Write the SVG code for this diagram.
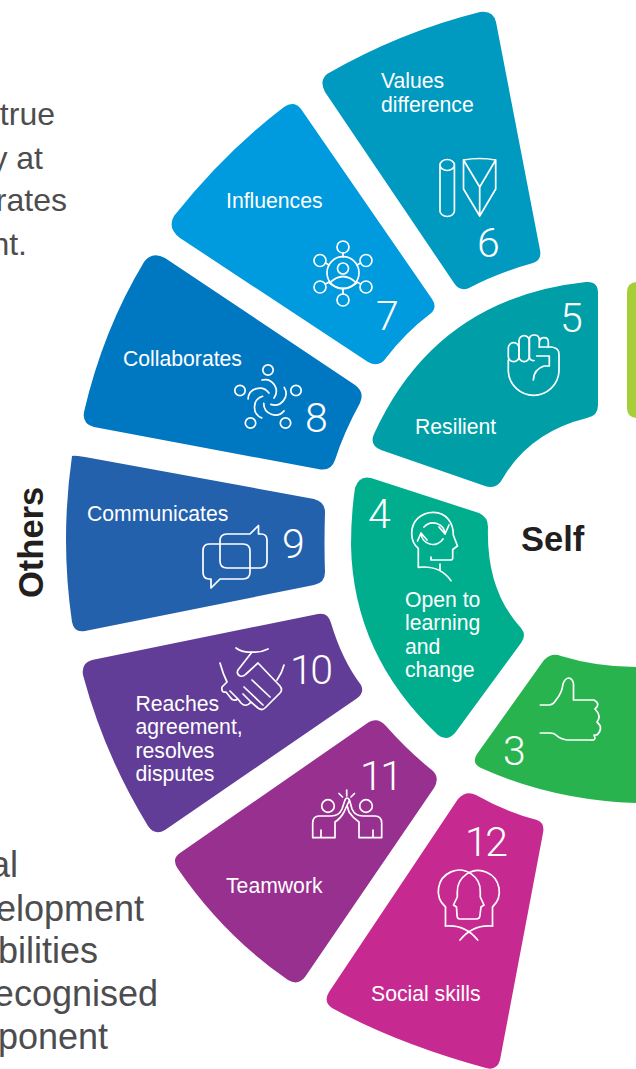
<svg xmlns="http://www.w3.org/2000/svg" width="636" height="1069" viewBox="0 0 636 1069">
<style>
.l{font:21.2px "Liberation Sans",Arial,sans-serif;fill:#fff}
.n{font-family:Roboto,"Liberation Sans",sans-serif;font-weight:300;font-size:41px;fill:#fff}
.d{letter-spacing:-2.5px}
.b{font:bold 34.5px "Liberation Sans",Arial,sans-serif;fill:#231f20}
.t{font:32px "Liberation Sans",Arial,sans-serif;fill:#4d4d4f}
.u{font-size:36px}
.i{fill:none;stroke:#fff;stroke-width:1.7;stroke-linecap:round;stroke-linejoin:round}
</style>
<defs>
<path id="sw" d="M262,380A11.500,11.500 0 0 1 274,398"/>
</defs>
<rect width="636" height="1069" fill="#fff"/>
<g id="text-top">
<text class="t" x="55" y="125" text-anchor="end">true</text>
<text class="t" x="43" y="169" text-anchor="end">y at</text>
<text class="t" x="67" y="211" text-anchor="end">rates</text>
<text class="t" x="27" y="255" text-anchor="end">nt.</text>
</g>
<g id="text-bottom">
<text class="t u" x="18" y="877" text-anchor="end">al</text>
<text class="t u" x="144" y="921" text-anchor="end">elopment</text>
<text class="t u" x="98" y="963" text-anchor="end">bilities</text>
<text class="t u" x="158" y="1006" text-anchor="end">ecognised</text>
<text class="t u" x="108" y="1049" text-anchor="end">ponent</text>
</g>
<text class="b" x="521" y="551">Self</text>
<text class="b" transform="translate(43,598) rotate(-90)" x="0" y="0">Others</text>

<g id="node-2"><path fill="#a6ce39" d="M636,282Q627,283 627,292V408Q627,417 636,418Z"/></g>

<g id="node-6">
<path fill="#009ac1" d="M327,74Q400,32 480,12Q493,10 496,22L540,250Q542,260 533,263Q497,273 469,288Q460,292 454,283L325,92Q319,81 327,74Z"/>
<path class="i" d="M440,165A7.2,5.5 0 0 1 454.4,165V211A7.2,5.500 0 0 1 440,211ZM440,165A7.2,5.5 0 0 0 454.4,165M463.5,160Q479.5,157 495.7,160V189L479.7,216L463.5,189ZM463.5,160L479.7,187L495.7,160M479.7,187V216"/>
<text class="l" x="381" y="88">Values</text><text class="l" x="381" y="112">difference</text>
<text class="n" x="477" y="257">6</text>
</g>

<g id="node-7">
<path fill="#009ade" d="M174,216Q225,152 284,107Q294,100 301,109L432,299Q438,308 430,314Q406,332 386,358Q379,368 368,362L180,238Q167,228 174,216Z"/>
<g class="i">
<circle cx="343" cy="272.7" r="16"/><circle cx="343" cy="268.5" r="5.5"/>
<path d="M329.5,283Q343,270 356.5,283Q343,294 329.5,283"/>
<circle cx="343" cy="247" r="6"/><circle cx="343" cy="300" r="6"/>
<circle cx="320" cy="260.5" r="6"/><circle cx="366" cy="260.5" r="6"/>
<circle cx="320" cy="287" r="6"/><circle cx="366" cy="287" r="6"/>
<path d="M343,253V257M343,289V294M325.5,263L329,265M360.5,263L357,265M325.5,284L329,282M360.5,284L357,282"/>
</g>
<text class="l" x="226" y="208">Influences</text>
<text class="n" x="376" y="330">7</text>
</g>

<g id="node-8">
<path fill="#0078c1" d="M144,262Q152,251 165,258L355,385Q365,392 360,403Q344,432 335,460Q331,472 318,469L94,427Q82,424 84,412Q103,330 144,262Z"/>
<g class="i">
<circle cx="268" cy="370" r="5.2"/><circle cx="240" cy="390.5" r="5.2"/><circle cx="296" cy="390.500" r="5.2"/><circle cx="250.5" cy="423" r="5.2"/><circle cx="285.5" cy="423" r="5.2"/>
<use href="#sw"/><use href="#sw" transform="rotate(72 268 399)"/><use href="#sw" transform="rotate(144 268 399)"/><use href="#sw" transform="rotate(216 268 399)"/><use href="#sw" transform="rotate(288 268 399)"/>
</g>
<text class="l" x="123" y="366">Collaborates</text>
<text class="n" x="305" y="432">8</text>
</g>

<g id="node-9">
<path fill="#2461ad" d="M72,456Q73,455 85,457L314,499Q325,502 325,512Q324,545 325,572Q325,583 314,585L85,631Q74,633 72,622Q60,540 72,456Z"/>
<path class="i" d="M250,534L258.5,525.5V534H261Q267,534 267,540V561Q267,568 260,568H227Q220,568 220,561V541Q220,534 227,534ZM209,544H243Q250,544 250,551V572Q250,579 243,579H220L211,588V579H209Q203,579 203,572V551Q203,544 209,544Z"/>
<text class="l" x="87" y="521">Communicates</text>
<text class="n" x="282" y="558">9</text>
</g>

<g id="node-10">
<path fill="#613d97" d="M92,660L318,614Q328,612 331,623Q342,660 361,685Q365,693 356,699L165,830Q155,836 148,826Q104,754 83,675Q81,663 92,660Z"/>
<g class="i">
<path d="M236,648Q243,653 252,652Q260,653 268,649M220,663Q223,674 227,682M284,665Q282,673 277,680M252,652L238,670Q236,674 240,676Q243,677 246,674L258,663L280,686Q283,690 280,693L265,708Q262,711 258,708L251,702Q246,708 241,703L238,699Q233,702 230,697L226,692Q221,693 222,687L227,682M252,680L270,697M244,687L263,705M238,699L230,691M251,702L243,694"/>
</g>
<text class="l" x="135.500" y="711">Reaches</text><text class="l" x="135.500" y="734">agreement,</text><text class="l" x="135.500" y="758">resolves</text><text class="l" x="135.500" y="781">disputes</text>
<text class="n d" x="290" y="684">10</text>
</g>

<g id="node-11">
<path fill="#983090" d="M369,722Q378,717 386,726Q408,751 433,771Q440,778 434,788L305,977Q298,986 288,980Q224,936 178,869Q171,859 180,853Z"/>
<g class="i">
<circle cx="328" cy="806" r="6.300"/><circle cx="366" cy="806" r="6.300"/>
<path d="M312.700,837.700V823Q313,816 319,816H331Q339,816 342,809L345,800Q347,796 349.500,800L344,812Q341,818 335,822V837.700ZM321,830V837.700M381.700,837.700V823Q381.500,816 375,816H363Q355,816 352,809L349.500,800M381.700,837.700H359V822Q353,818 349,812L347,805M373,830V837.700M346.700,790V796M339,793.500L342.500,797M354.500,793.500L351,797"/>
</g>
<text class="l" x="226" y="893">Teamwork</text>
<text class="n d" x="360" y="790">11</text>
</g>

<g id="node-12">
<path fill="#c62a90" d="M458,799Q466,790 476,795Q508,813 537,820Q545,823 543,833L500,1060Q497,1071 486,1068Q398,1044 332,1008Q323,1002 329,992Z"/>
<g class="i">
<path d="M445.500,926V907A21,21 0 1 1 480.300,892V897L484,905L481,907L480,915Q480,919 476,919H460Q457,919 457,915L456.500,907L453.500,905L457.300,897V892A21,21 0 1 1 492.500,907V926"/>
<path d="M445.500,926Q465,924 477.700,940M492.500,926Q473,924 460,940"/>
</g>
<text class="l" x="371" y="1001">Social skills</text>
<text class="n d" x="465" y="856">12</text>
</g>

<g id="node-5">
<path fill="#009fa7" d="M586,282Q598,281 598,293V405Q598,416 587,418Q530,432 503,478Q497,490 485,486L381,450Q369,445 374,434Q436,298 586,282Z"/>
<g class="i">
<rect x="508.300" y="342.700" width="10.700" height="19" rx="5.300"/>
<rect x="519" y="335.700" width="10.300" height="26" rx="5.100"/>
<path d="M529.300,356V340Q529.300,335 534.300,335Q539.300,335 539.300,340V347M529.300,356Q529.300,361 534,360.500M539.300,342Q540,337.700 544,337.700Q548.300,337.700 548.300,342V347"/>
<path d="M539.300,347H551.700Q559,348 559,354V371.500A25.400,25.400 0 0 1 508.300,371.500V360"/>
<path d="M536.700,356H549.300V366H544Q534,369 533.300,380"/>
</g>
<text class="l" x="415" y="434">Resilient</text>
<text class="n" x="560" y="332">5</text>
</g>

<g id="node-4">
<path fill="#00ae8e" d="M355,488Q359,475 371,478L479,513Q488,517 488,527Q486,590 521,628Q527,635 521,643L455,733Q447,742 438,735Q353,655 351,545Q351,515 355,488Z"/>
<g class="i">
<path d="M418.300,567.300V548.300Q411.700,543 411.700,533.500C411.700,521 421,512.300 433.500,512.300C447,512.300 453.500,524 453.300,535L457.500,546L452.700,549.500V558.300Q452.700,560 450,560H431V557M418.300,567.300Q440,565 451,580.700M440,564V570"/>
<path d="M424,527A12,12 0 0 1 445,534M449,525L445,534L439,527M443,539A12,12 0 0 1 421,533M417.500,541L421,533L427,540"/>
</g>
<text class="l" x="405" y="607">Open to</text><text class="l" x="405" y="630">learning</text><text class="l" x="405" y="654">and</text><text class="l" x="405" y="677">change</text>
<text class="n" x="368" y="528">4</text>
</g>

<g id="node-3">
<path fill="#28b34e" d="M544,660Q552,652 561,656Q597,667 636,667V803Q552,800 481,768Q471,763 477,754Z"/>
<path class="i" d="M540.300,705H549Q553,705 556,700Q562,693 563,684Q565,678 569,678Q573,679 573.500,684V700H594Q601,704 595,709Q602,716 597,722Q604,728 597,735H594Q597,741 590,740H567Q560,739 556,735Q554,733 550,733H540.300"/>
<text class="n" x="503" y="765">3</text>
</g>
</svg>
